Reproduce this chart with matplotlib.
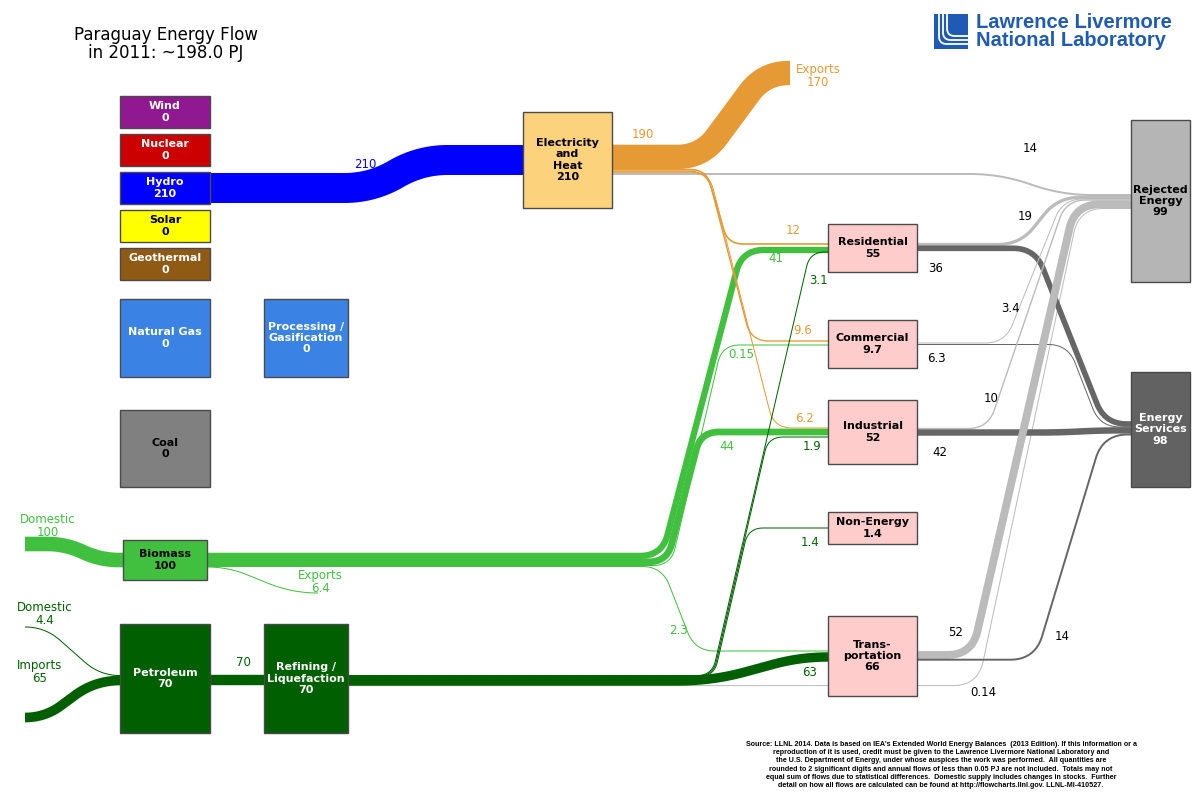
import matplotlib
matplotlib.use("Agg")
import matplotlib.pyplot as plt
import numpy as np
from matplotlib.patches import Rectangle

plt.rcParams['font.family'] = ['DejaVu Sans']

# ---- data (PJ, 2011) ----
supply_names = ["Wind", "Nuclear", "Hydro", "Solar", "Geothermal",
                "Natural Gas", "Coal", "Biomass", "Petroleum"]
supply_values = [0, 0, 210, 0, 0, 0, 0, 100, 70]

conversion_names = ["Processing /\nGasification", "Electricity\nand\nHeat",
                    "Refining /\nLiquefaction"]
conversion_values = [0, 210, 70]

sector_names = ["Residential", "Commercial", "Industrial", "Non-Energy",
                "Trans-\nportation"]
sector_values = [55, 9.7, 52, 1.4, 66]

sink_names = ["Rejected\nEnergy", "Energy\nServices"]
sink_values = [99, 98]

elec_output = 190

flow_src = ["Biomass domestic", "Petroleum domestic", "Petroleum imports",
            "Hydro", "Petroleum",
            "Biomass", "Biomass", "Biomass", "Biomass", "Biomass",
            "Electricity", "Electricity", "Electricity", "Electricity", "Electricity",
            "Refining", "Refining", "Refining", "Refining", "Refining",
            "Residential", "Residential", "Commercial", "Commercial",
            "Industrial", "Industrial", "Transportation", "Transportation"]
flow_dst = ["Biomass", "Petroleum", "Petroleum",
            "Electricity", "Refining",
            "Exports", "Residential", "Industrial", "Commercial", "Transportation",
            "Exports", "Residential", "Commercial", "Industrial", "Rejected",
            "Residential", "Industrial", "Non-Energy", "Transportation", "Rejected",
            "Rejected", "Services", "Rejected", "Services",
            "Rejected", "Services", "Rejected", "Services"]
flow_val = [100, 4.4, 65,
            210, 70,
            6.4, 41, 44, 0.15, 2.3,
            170, 12, 9.6, 6.2, 14,
            3.1, 1.9, 1.4, 63, 0.14,
            19, 36, 3.4, 6.3,
            10, 42, 52, 14]

# ---- layout (pixel space) ----
SCALE = 0.14  # px per PJ

boxes = {
    "Wind": (120, 96, 210, 128, "#901890", "white"),
    "Nuclear": (120, 134, 210, 166, "#CC0000", "white"),
    "Hydro": (120, 172, 210, 204, "#0000FF", "white"),
    "Solar": (120, 210, 210, 242, "#FFFF00", "black"),
    "Geothermal": (120, 248, 210, 280, "#8E5A14", "white"),
    "Natural Gas": (120, 299, 210, 377, "#3A82E4", "white"),
    "Coal": (120, 410, 210, 487, "#808080", "black"),
    "Biomass": (123, 540, 207, 580, "#41C040", "black"),
    "Petroleum": (120, 624, 210, 733, "#005F00", "white"),
    "Processing": (264, 299, 348, 377, "#3A82E4", "white"),
    "Electricity": (523, 112, 612, 208, "#FDD27C", "black"),
    "Refining": (264, 624, 348, 733, "#005F00", "white"),
    "Residential": (828, 224, 917, 272, "#FFCCCC", "black"),
    "Commercial": (828, 320, 917, 368, "#FFCCCC", "black"),
    "Industrial": (828, 400, 917, 464, "#FFCCCC", "black"),
    "Non-Energy": (828, 512, 917, 544, "#FFCCCC", "black"),
    "Transportation": (828, 616, 917, 696, "#FFCCCC", "black"),
    "Rejected": (1131, 120, 1190, 282, "#B5B5B5", "black"),
    "Services": (1131, 372, 1190, 487, "#626262", "white"),
}
box_labels = {}
for n, v in zip(supply_names, supply_values):
    box_labels[n] = f"{n}\n{v:g}"
for key, n, v in zip(["Processing", "Electricity", "Refining"], conversion_names, conversion_values):
    box_labels[key] = f"{n}\n{v:g}"
for key, n, v in zip(["Residential", "Commercial", "Industrial", "Non-Energy", "Transportation"],
                     sector_names, sector_values):
    box_labels[key] = f"{n}\n{v:g}"
for key, n, v in zip(["Rejected", "Services"], sink_names, sink_values):
    box_labels[key] = f"{n}\n{v:g}"

# centerline routes (waypoints, corner radius) and label placement per flow
routes = [
    ([(25, 544), (66, 544), (100, 560), (123, 560)], 30, (48, 526), "Domestic\n"),
    ([(25, 627), (45, 627), (100, 675.5), (120, 675.5)], 30, (45, 614), "Domestic\n"),
    ([(25, 717.5), (45, 717.5), (95, 680.5), (120, 680.5)], 30, (40, 672), "Imports\n"),
    ([(210, 188), (372, 188), (420, 160), (523, 160)], 30, (365, 165), ""),
    ([(210, 680), (264, 680)], 0, (243, 663), ""),
    ([(207, 567), (228, 567), (292, 593), (318, 593)], 30, (320, 582), "Exports\n"),
    ([(207, 555.9), (662, 555.9), (742, 250), (828, 250)], 22, (776, 259), ""),
    ([(207, 561.8), (667, 561.8), (700.9, 432), (828, 432)], 18, (727, 446), ""),
    ([(207, 565.5), (671, 565.5), (722, 345), (828, 345)], 18, (741, 354), ""),
    ([(207, 566.5), (662, 566.5), (695, 651), (828, 651)], 20, (678, 631), ""),
    ([(612, 156.9), (702, 156.9), (764, 73), (790, 73)], 25, (818, 76), "Exports\n"),
    ([(612, 169.7), (706, 169.7), (728, 244), (828, 244)], 15, (793, 231), ""),
    ([(612, 171.2), (707, 171.2), (751, 341), (828, 341)], 18, (803, 331), ""),
    ([(612, 172.3), (709, 172.3), (774, 428), (828, 428)], 18, (805, 418), ""),
    ([(612, 174), (1000, 174), (1062, 195), (1131, 195)], 30, (1030, 148), ""),
    ([(348, 675.5), (712, 675.5), (810, 252), (828, 252)], 15, (818, 280), ""),
    ([(348, 676), (713, 676), (768.3, 437), (828, 437)], 15, (812, 447), ""),
    ([(348, 676.5), (714, 676.5), (748.4, 528), (828, 528)], 15, (810, 543), ""),
    ([(348, 681), (712, 681), (800, 657), (828, 657)], 35, (810, 672), ""),
    ([(348, 685.6), (978, 685.6), (1079, 208.5), (1131, 208.5)], 25, (983, 693), ""),
    ([(917, 244.5), (1020, 244.5), (1058, 197.3), (1131, 197.3)], 22, (1025, 217), ""),
    ([(917, 248.3), (1035, 248.3), (1105, 424), (1131, 424)], 22, (936, 268), ""),
    ([(917, 343), (1005, 343), (1063, 199), (1131, 199)], 20, (1010, 309), ""),
    ([(917, 344.5), (1068, 344.5), (1100, 427), (1131, 427)], 20, (936, 359), ""),
    ([(917, 428.5), (988, 428.5), (1066, 200), (1131, 200)], 20, (991, 398), ""),
    ([(917, 432.5), (1060, 432.5), (1100, 430.4), (1131, 430.4)], 20, (940, 453), ""),
    ([(917, 655), (972, 655), (1075, 204.3), (1131, 204.3)], 25, (956, 632), ""),
    ([(917, 659.7), (1035, 659.7), (1103, 434.5), (1131, 434.5)], 25, (1062, 636), ""),
]

BLUE, ORANGE = "#0000FF", "#E69A35"
LGREEN, DGREEN = "#41C040", "#006000"
LGRAY, DGRAY = "#BBBBBB", "#666666"


def flow_color(src, dst):
    if dst == "Rejected":
        return LGRAY, "black"
    if dst == "Services":
        return DGRAY, "black"
    if src == "Hydro":
        return BLUE, BLUE
    if src == "Electricity":
        return ORANGE, ORANGE
    if src.startswith("Biomass"):
        return LGREEN, LGREEN
    return DGREEN, DGREEN


def rounded_path(pts, r):
    pts = np.asarray(pts, float)
    n = len(pts)
    xs, ys = [pts[0, 0]], [pts[0, 1]]
    for i in range(1, n - 1):
        p0, p1, p2 = pts[i - 1], pts[i], pts[i + 1]
        v1, v2 = p1 - p0, p2 - p1
        L1, L2 = np.hypot(*v1), np.hypot(*v2)
        lim1 = L1 if i == 1 else L1 / 2
        lim2 = L2 if i == n - 2 else L2 / 2
        rr = min(r, lim1, lim2)
        a = p1 - v1 / L1 * rr
        b = p1 + v2 / L2 * rr
        t = np.linspace(0, 1, 30)[:, None]
        q = (1 - t) ** 2 * a + 2 * (1 - t) * t * p1 + t ** 2 * b
        xs.extend(q[:, 0])
        ys.extend(q[:, 1])
    xs.append(pts[-1, 0])
    ys.append(pts[-1, 1])
    return xs, ys


fig = plt.figure(figsize=(12, 8), dpi=100)
ax = fig.add_axes([0, 0, 1, 1])
ax.set_xlim(0, 1200)
ax.set_ylim(800, 0)
ax.axis("off")

# gray flows first, then colored ones on top
order = sorted(range(len(flow_val)),
               key=lambda i: 0 if flow_dst[i] in ("Rejected", "Services") else 1)
for i in order:
    pts, r, lab_xy, prefix = routes[i]
    col, tcol = flow_color(flow_src[i], flow_dst[i])
    w = flow_val[i] * SCALE
    w = w + 0.6 if w >= 2 else max(w, 1.0)   # small overlap hides seams
    xs, ys = rounded_path(pts, r)
    ax.plot(xs, ys, color=col, lw=w * 0.72, solid_capstyle="butt",
            solid_joinstyle="round", zorder=2 if col in (LGRAY, DGRAY) else 3)
    ax.text(lab_xy[0], lab_xy[1], f"{prefix}{flow_val[i]:g}", color=tcol,
            fontsize=8.5, ha="center", va="center", linespacing=0.95, zorder=6)

ax.text(643, 135, f"{elec_output:g}", color=ORANGE, fontsize=8.5,
        ha="center", va="center", zorder=6)

for key, (x0, y0, x1, y1, fc, tc) in boxes.items():
    ax.add_patch(Rectangle((x0, y0), x1 - x0, y1 - y0, facecolor=fc,
                           edgecolor="#4a4a4a", lw=1, zorder=5))
    ax.text((x0 + x1) / 2, (y0 + y1) / 2, box_labels[key], color=tc,
            fontsize=8, fontweight="bold", ha="center", va="center",
            linespacing=1.15, zorder=6)

# title
ax.text(166, 44, "Paraguay Energy Flow\nin 2011: ~198.0 PJ", fontsize=12,
        ha="center", va="center", linespacing=1.0)

# LLNL logo
ax.add_patch(Rectangle((934, 14), 34, 35, facecolor="#1F5AB4", edgecolor="none"))
for k, off in enumerate([0, 4, 8]):
    lx, ly = rounded_path([(939 + off, 14), (939 + off, 44 - off), (968, 44 - off)], 8)
    ax.plot(lx, ly, color="white", lw=1.3)
ax.text(976, 22, "Lawrence Livermore", color="#1F5AB4", fontsize=14.5,
        fontweight="bold", family="Liberation Sans", ha="left", va="center")
ax.text(976, 41, "National Laboratory", color="#1F5AB4", fontsize=14.5,
        fontweight="bold", family="Liberation Sans", ha="left", va="center")

source = ("Source: LLNL 2014. Data is based on IEA's Extended World Energy Balances  (2013 Edition). If this information or a\n"
          "reproduction of it is used, credit must be given to the Lawrence Livermore National Laboratory and\n"
          "the U.S. Department of Energy, under whose auspices the work was performed.  All quantities are\n"
          "rounded to 2 significant digits and annual flows of less than 0.05 PJ are not included.  Totals may not\n"
          "equal sum of flows due to statistical differences.  Domestic supply includes changes in stocks.  Further\n"
          "detail on how all flows are calculated can be found at http://flowcharts.llnl.gov. LLNL-MI-410527.")
ax.text(941, 741, source, fontsize=5.15, fontweight="bold", family="Liberation Sans",
        ha="center", va="top", linespacing=1.25)

fig.savefig("out.png", dpi=100)
